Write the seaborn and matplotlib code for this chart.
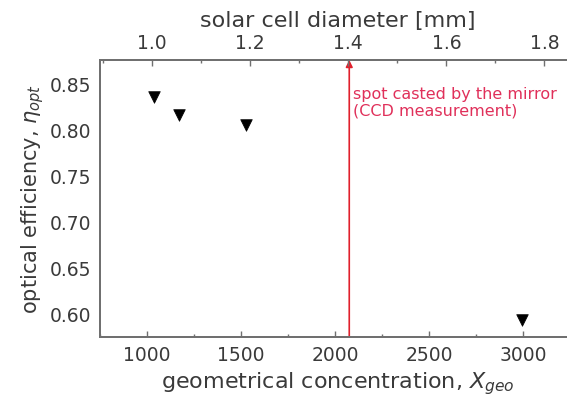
import numpy as np
import matplotlib
matplotlib.use("Agg")
import matplotlib.pyplot as plt
import seaborn as sns
import pandas as pd
from matplotlib.ticker import MultipleLocator, FormatStrFormatter

# data
concentration = [1035, 1168, 1527, 2995]
efficiency = [0.835, 0.815, 0.805, 0.593]
spot_x = 2075  # CCD measured spot -> d = 1.4 mm
spot_text = "spot casted by the mirror\n(CCD measurement)"

xlim_bottom = (750, 3282)
xlim_top = (0.894, 1.865)
ylim = (0.575, 0.875)

df = pd.DataFrame({"X_geo": concentration, "eta_opt": efficiency})

sns.set_style("white")
plt.rcParams["font.family"] = ["DejaVu Sans"]
plt.rcParams["mathtext.fontset"] = "dejavusans"

fig = plt.figure(figsize=(5.67, 4.02), dpi=100)
ax = fig.add_axes([0.1764, 0.160, 0.84, 0.6883])

sns.scatterplot(data=df, x="X_geo", y="eta_opt", marker="v", s=70,
                color="black", edgecolor="black", linewidth=0.5, ax=ax, zorder=3)

ax.set_xlim(*xlim_bottom)
ax.set_ylim(*ylim)

# vertical marker line with arrow to the top axis
red = "#e0202c"
ax.annotate("", xy=(spot_x, ylim[1]), xytext=(spot_x, ylim[0]),
            arrowprops=dict(arrowstyle="-|>", color=red, lw=1.2,
                            mutation_scale=10, shrinkA=0, shrinkB=0))
ax.text(spot_x + 20, 0.8295, spot_text, color="#e0305a", fontsize=11.5,
        va="center", ha="left", linespacing=1.15, clip_on=False)

grey = "#707070"
txt = "#3a3a3a"
for s in ax.spines.values():
    s.set_color(grey)
    s.set_linewidth(1.4)

ax.xaxis.set_major_locator(MultipleLocator(500))
ax.xaxis.set_minor_locator(MultipleLocator(250))
ax.yaxis.set_major_locator(MultipleLocator(0.05))
ax.yaxis.set_minor_locator(MultipleLocator(0.025))
ax.yaxis.set_major_formatter(FormatStrFormatter("%.2f"))
ax.tick_params(which="both", direction="in", color=grey, width=1.0,
               right=True, labelsize=13.5, labelcolor=txt, pad=6)
ax.tick_params(which="major", length=4)
ax.tick_params(which="minor", length=2.5)

ax.set_xlabel(r"geometrical concentration, $X_{geo}$", fontsize=16,
              color=txt, labelpad=4)
ax.set_ylabel(r"optical efficiency, $\eta_{opt}$", fontsize=15,
              color=txt, labelpad=3)

top = ax.twiny()
top.set_xlim(*xlim_top)
top.xaxis.set_major_locator(MultipleLocator(0.2))
top.xaxis.set_minor_locator(MultipleLocator(0.1))
top.xaxis.set_major_formatter(FormatStrFormatter("%.1f"))
top.tick_params(which="both", direction="in", color=grey, width=1.0,
                labelsize=13.5, labelcolor=txt, pad=6)
top.tick_params(which="major", length=4)
top.tick_params(which="minor", length=2.5)
for s in top.spines.values():
    s.set_color(grey)
    s.set_linewidth(1.4)
top.set_xlabel("solar cell diameter [mm]", fontsize=16, color=txt,
               labelpad=5)

fig.savefig("out.png", dpi=100)
